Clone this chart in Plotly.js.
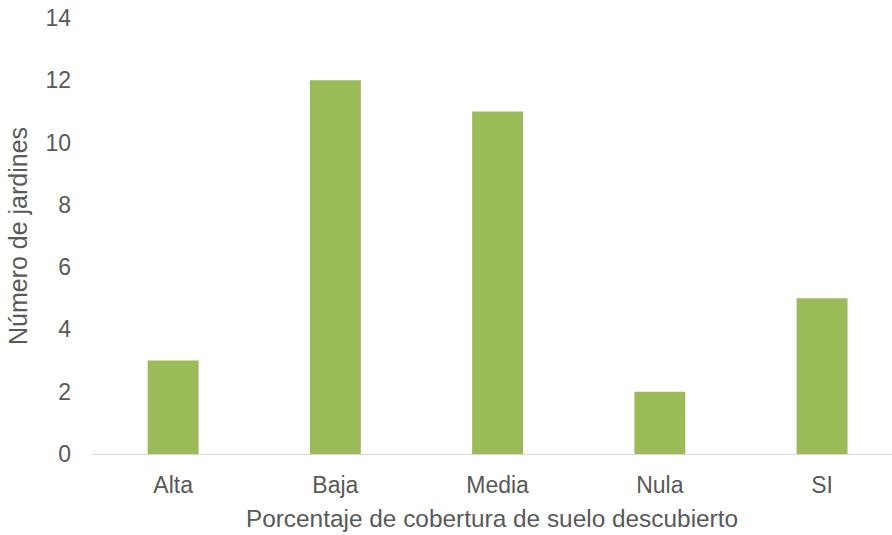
<!DOCTYPE html>
<html>
<head>
<meta charset="utf-8">
<script src="https://cdn.plot.ly/plotly-3.0.1.min.js"></script>
<style>html,body{margin:0;padding:0;background:#fff;}#chart{width:892px;height:535px;}</style>
</head>
<body>
<div id="chart"></div>
<script>
const categories = ["Alta", "Baja", "Media", "Nula", "SI"];
const jardines = [3, 12, 11, 2, 5];
const yTickValues = [0, 2, 4, 6, 8, 10, 12, 14];
const xTitle = "Porcentaje de cobertura de suelo descubierto";
const yTitle = "Número de jardines";

const trace = {
  type: "bar",
  x: categories,
  y: jardines,
  marker: { color: "#9BBB59", line: { width: 0 } },
  hoverinfo: "x+y"
};

const font = "Liberation Sans, Arial, sans-serif";
const layout = {
  width: 892,
  height: 535,
  margin: { l: 92, r: 0, t: 18, b: 81, pad: 0 },
  paper_bgcolor: "#ffffff",
  plot_bgcolor: "#ffffff",
  showlegend: false,
  bargap: 0.686,
  font: { family: font, color: "#595959" },
  xaxis: {
    type: "category",
    range: [-0.5, 4.431],
    showline: true,
    linecolor: "#d9d9d9",
    linewidth: 1,
    showgrid: false,
    zeroline: false,
    ticks: "",
    ticklabelstandoff: 10,
    tickfont: { family: font, size: 23, color: "#595959" },
    title: { text: xTitle, font: { family: font, size: 24.4, color: "#595959" }, standoff: 13 },
    automargin: false
  },
  yaxis: {
    range: [0, 14],
    tickvals: yTickValues,
    showline: false,
    showgrid: false,
    zeroline: false,
    ticks: "",
    ticklabelstandoff: 20,
    tickfont: { family: font, size: 23, color: "#595959" },
    title: { text: yTitle, font: { family: font, size: 25, color: "#595959" }, standoff: 10 },
    automargin: false
  }
};

Plotly.newPlot("chart", [trace], layout, { displayModeBar: false, staticPlot: true });
</script>
</body>
</html>
